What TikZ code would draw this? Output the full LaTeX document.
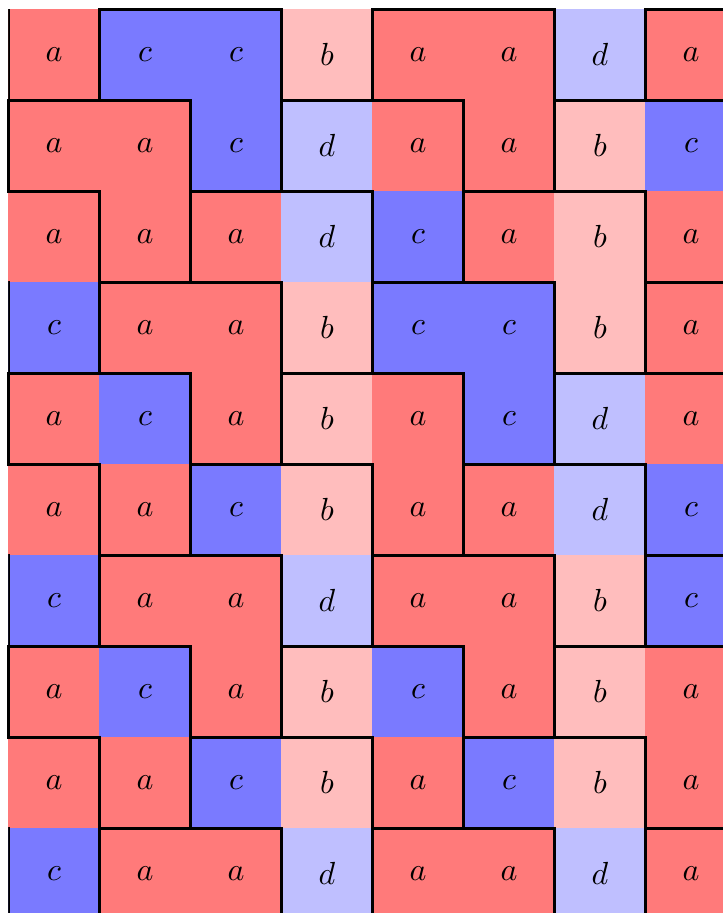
\documentclass[tikz,border=0pt]{standalone}
\colorlet{cola}{red!52}
\colorlet{colb}{red!26}
\colorlet{colc}{blue!52}
\colorlet{cold}{blue!25}
\begin{document}
\begin{tikzpicture}[
  cell/.style={minimum size=1.012cm, inner sep=0pt, outer sep=0pt, draw=none},
  tileline/.style={draw=black, line width=0.95pt, line join=miter},
  ltile/.style={insert path={-- ++(2,0) -- ++(0,-2) -- ++(-1,0) -- ++(0,1) -- ++(-1,0) -- cycle}}]
\useasboundingbox (-0.093,0.1) rectangle (7.852,-9.933);
\foreach \rowlist [count=\r from 0] in {
  {a,c,c,b,a,a,d,a},
  {a,a,c,d,a,a,b,c},
  {a,a,a,d,c,a,b,a},
  {c,a,a,b,c,c,b,a},
  {a,c,a,b,a,c,d,a},
  {a,a,c,b,a,a,d,c},
  {c,a,a,d,a,a,b,c},
  {a,c,a,b,c,a,b,a},
  {a,a,c,b,a,c,b,a},
  {c,a,a,d,a,a,d,a}}{
  \foreach \l [count=\c from 0] in \rowlist {
    \node[cell, fill=col\l] (n\r-\c) at (\c+0.5,-\r-0.5) {$\l$};
  }
}
% all L-shaped tiles, clipped to the grid
\begin{scope}
\clip (0,0) rectangle (8.5,-10.5);
\foreach \i in {-1,...,3}{
  \foreach \j in {-1,...,4}{
    \foreach \dx/\dy in {1/0,0/1,2/2}{
      \draw[tileline] ({3*\i+\dx},{-3*\j-\dy}) [ltile];
    }
  }
}
\end{scope}
% tiles touching the top and left edges, with their full line width
\begin{scope}
\clip (-0.017,0.017) rectangle (8.5,-10.5);
\foreach \c in {1,4,7}{
  \draw[tileline] (\c,0) [ltile];
}
\foreach \r in {1,4,7}{
  \draw[tileline] (0,-\r) [ltile];
}
\end{scope}
\end{tikzpicture}
\end{document}
